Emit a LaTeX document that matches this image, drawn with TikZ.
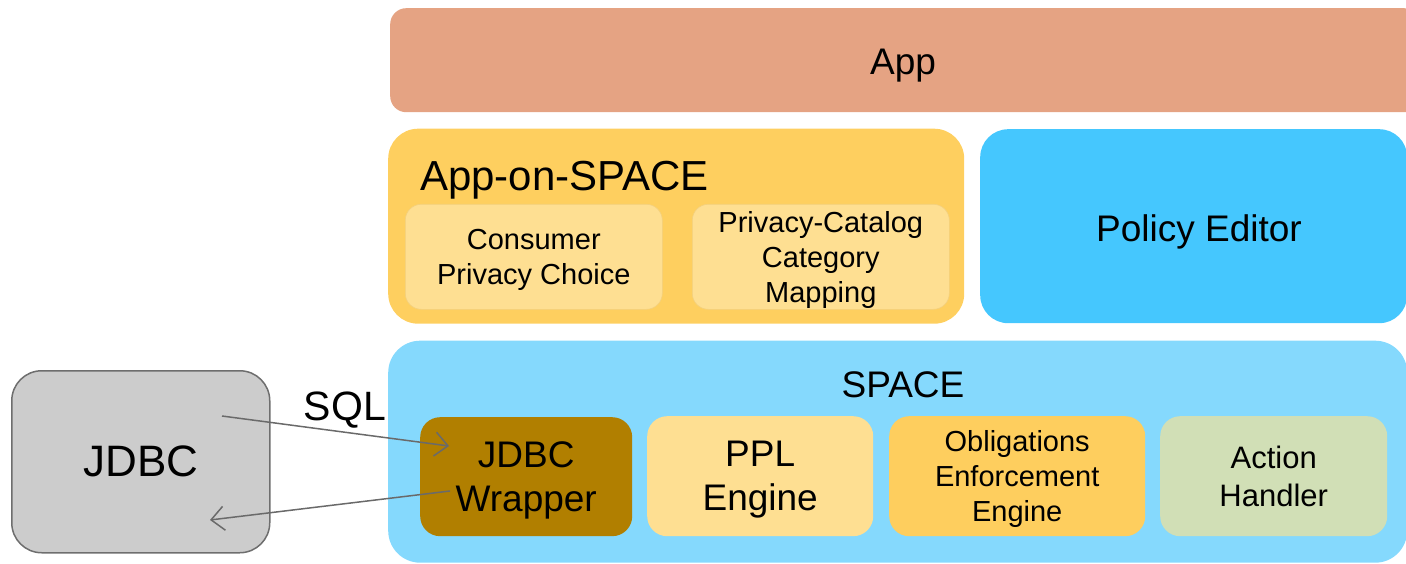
\documentclass[tikz,border=0pt]{standalone}
\usepackage{fontspec}
\setmainfont{Liberation Sans}
\usetikzlibrary{arrows.meta}
\definecolor{appc}{HTML}{E5A383}
\definecolor{aosc}{HTML}{FECF5F}
\definecolor{lightc}{HTML}{FEDF92}
\definecolor{lightd}{HTML}{F3D07E}
\definecolor{polc}{HTML}{45C7FE}
\definecolor{spacec}{HTML}{85D9FD}
\definecolor{wrapc}{HTML}{B17F00}
\definecolor{oblc}{HTML}{FECE5E}
\definecolor{actc}{HTML}{D1DFB6}
\definecolor{jdbcc}{HTML}{CCCCCC}
\definecolor{jdbcd}{HTML}{6E6E6E}
\definecolor{arrc}{HTML}{6A6A6A}
\tikzset{
  blk/.style={rectangle, inner sep=0pt, align=center, text depth=0pt},
  big/.style={font=\fontsize{37}{44}\selectfont},
  small/.style={font=\fontsize{29}{35}\selectfont},
  arr/.style={draw=arrc, line width=1.5pt, -{Straight Barb[length=13pt,width=24pt,line width=1.5pt]}}
}
\begin{document}
\begin{tikzpicture}[x=1pt,y=-1pt]
\useasboundingbox (0,0) rectangle (1406,564);
% App
\node[blk, fill=appc, rounded corners=16pt, minimum width=1030pt, minimum height=104pt, anchor=north west] (app) at (390,8) {};
\node[big] (applbl) at (903,66) {App};
% App-on-SPACE
\node[blk, fill=aosc, rounded corners=30pt, minimum width=576pt, minimum height=195pt, anchor=north west] (aos) at (388,128.5) {};
\node[font=\fontsize{42}{48}\selectfont, anchor=base west, inner sep=0pt] (aoslbl) at (420,191) {App-on-SPACE};
\node[blk, small, fill=lightc, draw=lightd, line width=0.6pt, rounded corners=16pt, minimum width=257pt, minimum height=105pt, anchor=north west] (cpc) at (405,204) {Consumer\\Privacy Choice};
\node[blk, small, fill=lightc, draw=lightd, line width=0.6pt, rounded corners=16pt, minimum width=257pt, minimum height=105pt, anchor=north west] (pcm) at (692,204) {Privacy-Catalog\\Category\\Mapping};
% Policy Editor
\node[blk, fill=polc, rounded corners=28pt, minimum width=427pt, minimum height=194pt, anchor=north west] (pol) at (980,129) {};
\node[big] (pollbl) at (1199,232) {Policy Editor};
% SPACE
\node[blk, fill=spacec, rounded corners=32pt, minimum width=1019pt, minimum height=222pt, anchor=north west] (space) at (388,340.5) {};
\node[big] (spacelbl) at (903,385) {SPACE};
\node[blk, big, fill=wrapc, rounded corners=20pt, minimum width=212pt, minimum height=119pt, anchor=north west] (wrap) at (420,417) {JDBC\\Wrapper};
\node[blk, big, fill=lightc, rounded corners=20pt, minimum width=226pt, minimum height=120pt, anchor=north west] (ppl) at (647,416) {PPL\\Engine};
\node[blk, small, fill=oblc, rounded corners=20pt, minimum width=256pt, minimum height=120pt, anchor=north west] (obl) at (889,416) {Obligations\\Enforcement\\Engine};
\node[blk, fill=actc, rounded corners=20pt, minimum width=227pt, minimum height=120pt, anchor=north west, font=\fontsize{31}{38}\selectfont] (act) at (1160,416) {Action\\Handler};
% JDBC
\node[rectangle, inner sep=0pt, fill=jdbcc, draw=jdbcd, line width=1.5pt, rounded corners=30pt, minimum width=258pt, minimum height=182pt, anchor=north west, font=\fontsize{44}{50}\selectfont] (jdbc) at (11,370) {JDBC};
\node[font=\fontsize{41}{46}\selectfont] (sql) at (345,410) {SQL};
% arrows
\coordinate (a1s) at (222,416);
\coordinate (a1e) at (449,446);
\coordinate (a2s) at (450,491);
\coordinate (a2e) at (210,520);
\draw[arr] (a1s) -- (a1e);
\draw[arr] (a2s) -- (a2e);
\end{tikzpicture}
\end{document}
